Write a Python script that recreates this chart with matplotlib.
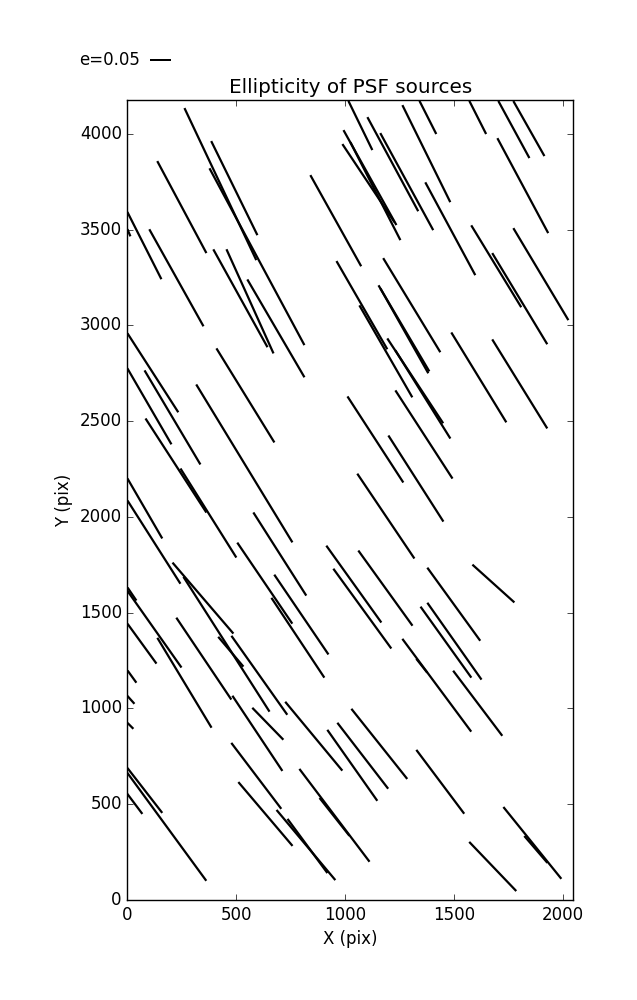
import numpy as np
import matplotlib
matplotlib.use("Agg")
import matplotlib.pyplot as plt

# star positions (pix) and ellipticity vector components
x = [427, 595, 491, 250, 78, 225, 519, 563, 682, 957,
     542, 117, 207, 101, 223, 372, 537, 80, 122, 1070,
     1114, 1107, 1139, 1219, 1283, 1373, 1380, 1609, 1775, 1844,
     1816, 1483, 1077, 1306, 1270, 1272, 1187, 1322, 1357, 1614,
     1802, 1139, 1362, 1325, 1187, 1694, 1802, 1899, 700, 631,
     799, 783, 347, 455, 475, 606, 21, 124, 67, 262,
     351, 21, 16, 14, 1185, 1040, 1079, 1499, 1681, 1463,
     1502, 1421, 1352, 1609, 597, 645, 856, 1033, 1081, 1157,
     80, 181, 34, 592, 634, 820, 827, 951, 951, 1437,
     1678, 1860, 1876, 7]
y = [3737, 3358, 3716, 3617, 3416, 3248, 3141, 3125, 2984, 3546,
     2634, 2752, 2519, 2577, 2268, 2020, 2279, 2044, 1868, 4043,
     3771, 3742, 3700, 3841, 3750, 3896, 4085, 4085, 4022, 4027,
     3729, 3504, 3105, 3105, 2984, 2971, 2864, 2710, 2639, 2728,
     2694, 2404, 2430, 2200, 2004, 3308, 3139, 3267, 1806, 1654,
     1490, 1369, 1576, 1335, 1296, 1173, 1597, 1414, 1338, 1134,
     1260, 1166, 1045, 909, 1628, 1649, 1521, 1544, 1652, 1346,
     1351, 1121, 1223, 1027, 870, 920, 855, 703, 753, 815,
     572, 382, 502, 648, 449, 287, 282, 442, 434, 617,
     175, 298, 264, 3483]
ex = [0.171, 0.226, 0.110, 0.117, 0.081, 0.129, 0.129, 0.112, 0.136, 0.121,
      0.138, 0.121, 0.133, 0.105, 0.145, 0.133, 0.229, 0.083, 0.126, 0.057,
      0.126, 0.124, 0.119, 0.121, 0.126, 0.114, 0.040, 0.040, 0.074, 0.074,
      0.121, 0.119, 0.121, 0.136, 0.121, 0.114, 0.126, 0.133, 0.131, 0.131,
      0.131, 0.133, 0.136, 0.131, 0.136, 0.119, 0.131, 0.131, 0.126, 0.131,
      0.129, 0.126, 0.145, 0.205, 0.060, 0.133, 0.021, 0.129, 0.069, 0.129,
      0.131, 0.021, 0.017, 0.014, 0.129, 0.131, 0.138, 0.126, 0.100, 0.121,
      0.129, 0.164, 0.026, 0.117, 0.119, 0.074, 0.136, 0.119, 0.121, 0.133,
      0.083, 0.188, 0.036, 0.119, 0.129, 0.140, 0.095, 0.167, 0.071, 0.114,
      0.112, 0.138, 0.055, 0.007]
ey = [-0.362, -0.421, -0.224, -0.219, -0.160, -0.231, -0.233, -0.248, -0.233, -0.217,
      -0.224, -0.188, -0.224, -0.181, -0.224, -0.212, -0.376, -0.143, -0.198, -0.117,
      -0.226, -0.186, -0.233, -0.224, -0.231, -0.231, -0.079, -0.079, -0.136, -0.131,
      -0.226, -0.221, -0.210, -0.224, -0.205, -0.202, -0.219, -0.202, -0.210, -0.214,
      -0.212, -0.205, -0.210, -0.205, -0.202, -0.195, -0.217, -0.219, -0.198, -0.193,
      -0.190, -0.190, -0.169, -0.321, -0.071, -0.188, -0.031, -0.183, -0.095, -0.214,
      -0.195, -0.029, -0.019, -0.014, -0.179, -0.183, -0.190, -0.174, -0.090, -0.169,
      -0.183, -0.221, -0.033, -0.155, -0.179, -0.076, -0.164, -0.169, -0.157, -0.167,
      -0.107, -0.257, -0.048, -0.157, -0.152, -0.167, -0.129, -0.221, -0.090, -0.152,
      -0.117, -0.171, -0.064, -0.017]

key_e = 0.05

plt.style.use("classic")
fig = plt.figure(figsize=(6.37, 10), dpi=100, facecolor="white")
ax = fig.add_subplot(111)
fig.subplots_adjust(left=0.2, right=0.9, bottom=0.1, top=0.9)

q = ax.quiver(x, y, ex, ey, angles="uv", pivot="middle",
              scale=0.05 / 0.21, scale_units="inches",
              headwidth=0, headlength=0, headaxislength=0,
              width=0.005, color="black")
ax.quiverkey(q, 0.2355, 0.94, key_e, "e=%.2f" % key_e, labelpos="W",
             coordinates="figure", fontproperties={"size": 12})

ax.set_xlim(0, 2048)
ax.set_ylim(0, 4176)
ax.set_xticks(np.arange(0, 2001, 500))
ax.set_yticks(np.arange(0, 4001, 500))
ax.set_xlabel("X (pix)")
ax.set_ylabel("Y (pix)")
ax.set_title("Ellipticity of PSF sources")

fig.savefig("out.png", dpi=100, facecolor="white")
